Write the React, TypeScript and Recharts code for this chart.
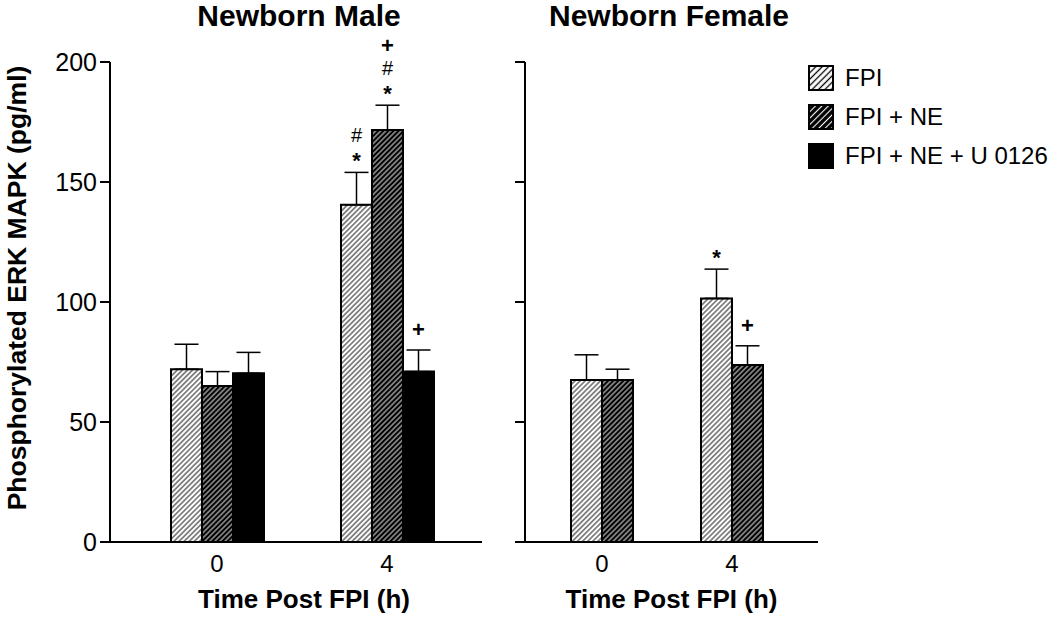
import { BarChart, Bar, XAxis, YAxis, ErrorBar, LabelList } from 'recharts'

const FONT = '"Liberation Sans", Arial, sans-serif'

const timePoints = ['0', '4']
const seriesNames = ['FPI', 'FPI + NE', 'FPI + NE + U 0126']

// newborn male
const maleFpi = [72, 140.5]
const maleFpiErr = [10.4, 13.5]
const maleNe = [65, 171.7]
const maleNeErr = [6, 10.3]
const maleU = [70.3, 71]
const maleUErr = [8.7, 9]
const maleFpiMarks = [[], ['*', '#']]
const maleNeMarks = [[], ['*', '#', '+']]
const maleUMarks = [[], ['+']]

// newborn female
const femaleFpi = [67.5, 101.5]
const femaleFpiErr = [10.5, 12.2]
const femaleNe = [67.5, 73.75]
const femaleNeErr = [4.5, 8]
const femaleFpiMarks = [[], ['*']]
const femaleNeMarks = [[], ['+']]

const yTicks = [0, 50, 100, 150, 200]

const maleData = timePoints.map((t, i) => ({
  time: t,
  fpi: maleFpi[i],
  fpiErr: [0, maleFpiErr[i]],
  ne: maleNe[i],
  neErr: [0, maleNeErr[i]],
  u: maleU[i],
  uErr: [0, maleUErr[i]],
}))

const femaleData = timePoints.map((t, i) => ({
  time: t,
  fpi: femaleFpi[i],
  fpiErr: [0, femaleFpiErr[i]],
  ne: femaleNe[i],
  neErr: [0, femaleNeErr[i]],
}))

const fills = ['url(#hatchLight)', 'url(#hatchDark)', '#000']
const legendFills = ['url(#legLight)', 'url(#legDark)', '#000']

// symbols stacked above the error cap
function marksLabel(marks: string[][], errs: number[]) {
  return (props: any) => {
    const i = props.index
    const list = marks[i] || []
    if (!list.length) return null
    const vb = props.viewBox || props
    const x = vb.x + vb.width / 2
    const v = Number(props.value ?? 0)
    const perUnit = v ? vb.height / v : 0
    const cap = vb.y - errs[i] * perUnit
    const first = list[0] === '+' ? 20 : 15
    return (
      <g>
        {list.map((m, k) => {
          const center = cap - first - 22 * k
          const shift = m === '*' ? 11 : 7
          return (
            <text
              key={k}
              x={x}
              y={center + shift}
              textAnchor="middle"
              fontFamily={FONT}
              fontSize={m === '#' ? 20 : 22}
              fontWeight={m === '#' ? 'normal' : 'bold'}
              fill="#000"
            >
              {m}
            </text>
          )
        })}
      </g>
    )
  }
}

const axisLabel = (text: string, shift: number) => (props: any) => {
  const vb = props.viewBox
  return (
    <text
      x={vb.x + vb.width / 2 + shift}
      y={vb.y + 66}
      textAnchor="middle"
      fontFamily={FONT}
      fontSize={26}
      fontWeight="bold"
      fill="#000"
    >
      {text}
    </text>
  )
}

const yLabel = (props: any) => {
  const vb = props.viewBox
  const cx = 17
  const cy = vb.y + vb.height / 2 - 14
  return (
    <text
      x={cx}
      y={cy}
      transform={`rotate(-90, ${cx}, ${cy})`}
      textAnchor="middle"
      dominantBaseline="central"
      fontFamily={FONT}
      fontSize={26.5}
      fontWeight="bold"
      fill="#000"
    >
      Phosphorylated ERK MAPK (pg/ml)
    </text>
  )
}

const tickStyle = { fill: '#000', fontFamily: FONT }
const axisStroke = { stroke: '#000', strokeWidth: 2 }

function Title({ text, x }: { text: string; x: number }) {
  return (
    <div
      style={{
        position: 'absolute',
        left: x - 150,
        width: 300,
        top: 1,
        height: 30,
        lineHeight: '30px',
        textAlign: 'center',
        fontFamily: FONT,
        fontWeight: 'bold',
        fontSize: 30,
        color: '#000',
      }}
    >
      {text}
    </div>
  )
}

export default function App() {
  return (
    <div style={{ position: 'absolute', left: 0, top: 0, width: 1050, height: 619, background: '#fff', overflow: 'hidden' }}>
      <svg width={0} height={0} style={{ position: 'absolute' }}>
        <defs>
          <pattern id="hatchLight" patternUnits="userSpaceOnUse" width={3.6} height={3.6} patternTransform="rotate(45)">
            <rect width={3.6} height={3.6} fill="#fff" />
            <line x1={1.8} y1={0} x2={1.8} y2={3.6} stroke="#000" strokeWidth={0.9} />
          </pattern>
          <pattern id="hatchDark" patternUnits="userSpaceOnUse" width={3.6} height={3.6} patternTransform="rotate(45)">
            <rect width={3.6} height={3.6} fill="#000" />
            <line x1={1.8} y1={0} x2={1.8} y2={3.6} stroke="#fff" strokeWidth={0.9} />
          </pattern>
          <pattern id="legLight" patternUnits="userSpaceOnUse" width={4.5} height={4.5} patternTransform="rotate(45)">
            <rect width={4.5} height={4.5} fill="#fff" />
            <line x1={2.25} y1={0} x2={2.25} y2={4.5} stroke="#000" strokeWidth={1.3} />
          </pattern>
          <pattern id="legDark" patternUnits="userSpaceOnUse" width={4.5} height={4.5} patternTransform="rotate(45)">
            <rect width={4.5} height={4.5} fill="#000" />
            <line x1={2.25} y1={0} x2={2.25} y2={4.5} stroke="#fff" strokeWidth={1.1} />
          </pattern>
        </defs>
      </svg>

      <Title text="Newborn Male" x={299} />
      <Title text="Newborn Female" x={669} />

      {/* newborn male */}
      <div style={{ position: 'absolute', left: 0, top: 0 }}>
        <BarChart
          width={490}
          height={619}
          data={maleData}
          margin={{ top: 62, right: 8, left: 0, bottom: 0 }}
          barSize={31}
          barGap={0}
        >
          <XAxis
            dataKey="time"
            height={77}
            padding={{ left: 22, right: 10 }}
            axisLine={axisStroke}
            tickLine={false}
            tickSize={0}
            tickMargin={13}
            tick={{ ...tickStyle, fontSize: 24 }}
            label={{ content: axisLabel('Time Post FPI (h)', 8) }}
          />
          <YAxis
            width={110}
            domain={[0, 200]}
            ticks={yTicks}
            axisLine={axisStroke}
            tickLine={axisStroke}
            tickSize={10}
            tickMargin={3}
            tick={{ ...tickStyle, fontSize: 25 }}
            label={{ content: yLabel }}
          />
          <Bar dataKey="fpi" name={seriesNames[0]} fill={fills[0]} stroke="#000" strokeWidth={2} isAnimationActive={false}>
            <ErrorBar dataKey="fpiErr" width={12} stroke="#000" strokeWidth={1.5} />
            <LabelList dataKey="fpi" content={marksLabel(maleFpiMarks, maleFpiErr)} />
          </Bar>
          <Bar dataKey="ne" name={seriesNames[1]} fill={fills[1]} stroke="#000" strokeWidth={2} isAnimationActive={false}>
            <ErrorBar dataKey="neErr" width={12} stroke="#000" strokeWidth={1.5} />
            <LabelList dataKey="ne" content={marksLabel(maleNeMarks, maleNeErr)} />
          </Bar>
          <Bar dataKey="u" name={seriesNames[2]} fill={fills[2]} stroke="#000" strokeWidth={2} isAnimationActive={false}>
            <ErrorBar dataKey="uErr" width={12} stroke="#000" strokeWidth={1.5} />
            <LabelList dataKey="u" content={marksLabel(maleUMarks, maleUErr)} />
          </Bar>
        </BarChart>
      </div>

      {/* newborn female */}
      <div style={{ position: 'absolute', left: 490, top: 0 }}>
        <BarChart
          width={330}
          height={619}
          data={femaleData}
          margin={{ top: 62, right: 2, left: 0, bottom: 0 }}
          barSize={31}
          barGap={0}
        >
          <XAxis
            dataKey="time"
            height={77}
            padding={{ left: 12, right: 21 }}
            axisLine={axisStroke}
            tickLine={false}
            tickSize={0}
            tickMargin={13}
            tick={{ ...tickStyle, fontSize: 24 }}
            label={{ content: axisLabel('Time Post FPI (h)', 0) }}
          />
          <YAxis
            width={35}
            domain={[0, 200]}
            ticks={yTicks}
            axisLine={axisStroke}
            tickLine={axisStroke}
            tickSize={10}
            tickFormatter={() => ''}
          />
          <Bar dataKey="fpi" name={seriesNames[0]} fill={fills[0]} stroke="#000" strokeWidth={2} isAnimationActive={false}>
            <ErrorBar dataKey="fpiErr" width={12} stroke="#000" strokeWidth={1.5} />
            <LabelList dataKey="fpi" content={marksLabel(femaleFpiMarks, femaleFpiErr)} />
          </Bar>
          <Bar dataKey="ne" name={seriesNames[1]} fill={fills[1]} stroke="#000" strokeWidth={2} isAnimationActive={false}>
            <ErrorBar dataKey="neErr" width={12} stroke="#000" strokeWidth={1.5} />
            <LabelList dataKey="ne" content={marksLabel(femaleNeMarks, femaleNeErr)} />
          </Bar>
        </BarChart>
      </div>

      {/* legend */}
      <div style={{ position: 'absolute', left: 808, top: 65 }}>
        {seriesNames.map((name, i) => (
          <div key={name} style={{ display: 'flex', alignItems: 'center', height: 26, marginBottom: 13 }}>
            <svg width={26} height={26} style={{ display: 'block' }}>
              <rect x={1} y={1} width={24} height={24} fill={legendFills[i]} stroke="#000" strokeWidth={2} />
            </svg>
            <span style={{ marginLeft: 11, fontFamily: FONT, fontSize: 24, color: '#000', whiteSpace: 'nowrap' }}>{name}</span>
          </div>
        ))}
      </div>
    </div>
  )
}
